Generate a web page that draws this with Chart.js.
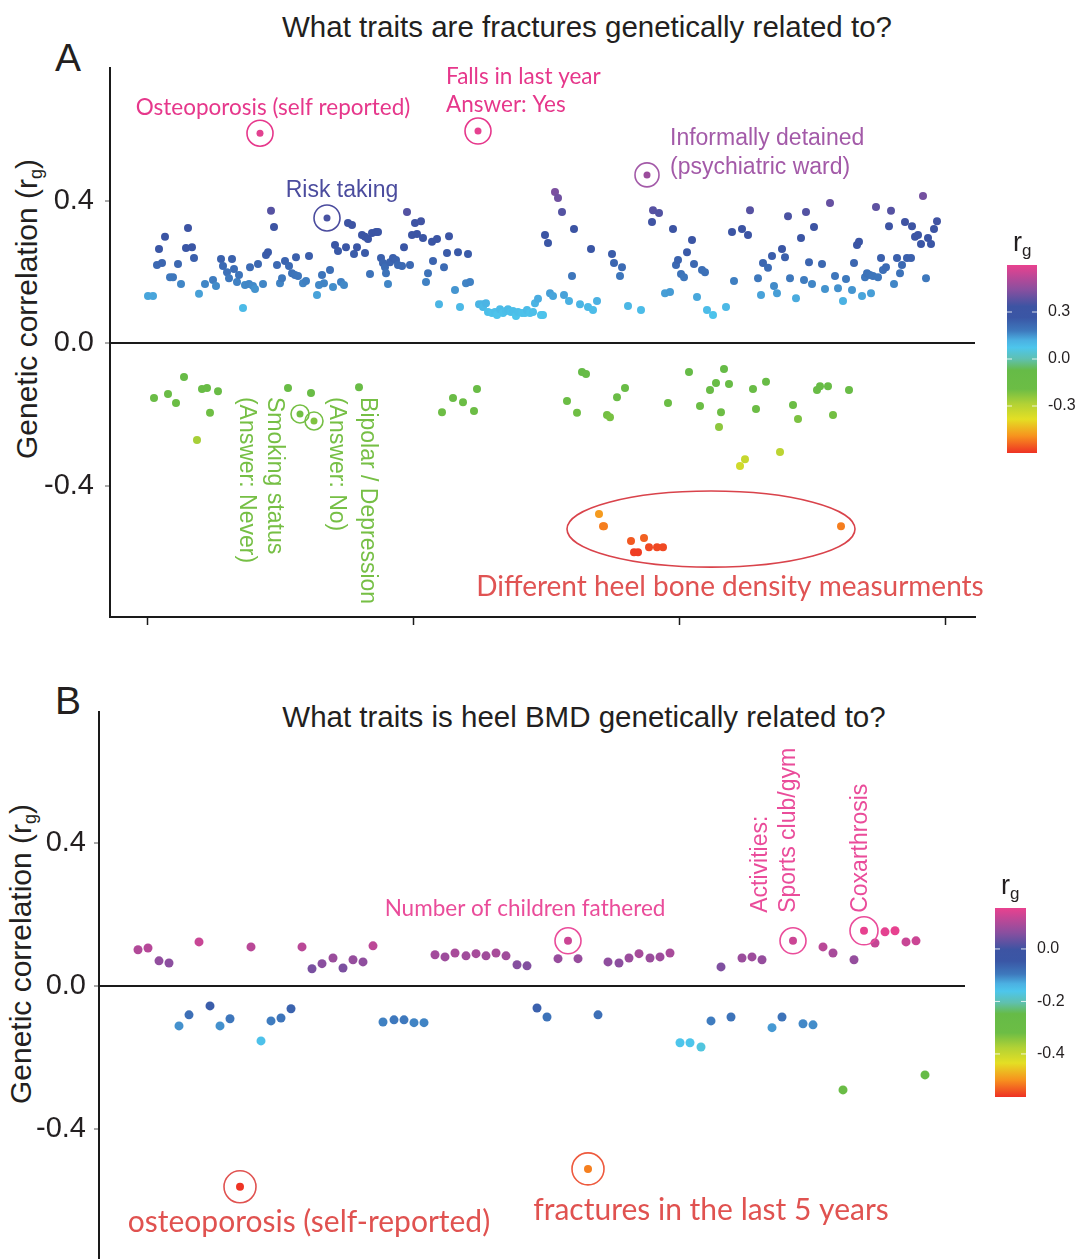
<!DOCTYPE html>
<html>
<head>
<meta charset="utf-8">
<script src="https://cdn.jsdelivr.net/npm/chart.js@4.4.1/dist/chart.umd.min.js"></script>
<style>
  body { margin: 0; background: #fff; width: 1080px; height: 1259px; position: relative; overflow: hidden; font-family: "Liberation Sans", Arial, sans-serif; color: #231f20; }
  .panel { position: absolute; left: 0; width: 1080px; }
  .lbl { position: absolute; white-space: nowrap; transform: translate(-50%, -50%); line-height: 1; }
  .ytitle { position: absolute; white-space: nowrap; transform: translate(-50%, -50%) rotate(-90deg); line-height: 1; }
  .ytitle sub { font-size: 0.6em; vertical-align: -0.3em; line-height: 0; }
</style>
</head>
<body>
<div class="lbl" style="left:587px;top:27px;font-size:29.5px">What traits are fractures genetically related to?</div>
<div class="lbl" style="left:68px;top:57px;font-size:39px">A</div>
<div class="ytitle" style="left:27px;top:309px;font-size:30px">Genetic correlation (r<sub>g</sub>)</div>
<div class="panel" style="top:0;height:640px"><canvas id="chartA"></canvas></div>

<div class="lbl" style="left:584px;top:717px;font-size:29.5px">What traits is heel BMD genetically related to?</div>
<div class="lbl" style="left:68px;top:700px;font-size:39px">B</div>
<div class="ytitle" style="left:21px;top:954px;font-size:30px">Genetic correlation (r<sub>g</sub>)</div>
<div class="panel" style="top:650px;height:609px"><canvas id="chartB"></canvas></div>

<script>
// ---- panel A : traits vs fractures ----
var aPosX = [1,6,10,12,15,18,23,26,31,34,39,41,45,47,52,58,66,69,74,76,80,82,85,87,90,92,96,98,102,103,106,108,111,116,119,121,124,127,130,133,135,138,142,145,148,149,151,156,159,162,170,172,175,177,183,186,188,191,194,197,199,201,205,207,210,215,218,218,221,223,225,229,231,234,236,238,239,241,243,246,249,251,255,257,260,263,265,268,270,274,276,279,281,285,286,290,292,297,300,302,308,311,313,319,321,323,332,
  335,336,339,341,345,348,350,353,356,359,361,364,366,369,371,375,378,380,383,386,388,391,394,396,398,401,403,406,408,411,415,417,422,425,427,433,441,444,446,450,465,467,473,475,481,494,505,506,512,518,523,526,529,531,534,537,540,545,547,550,555,558,560,566,
  579,585,587,595,601,603,611,614,616,621,625,627,630,635,638,641,643,649,654,657,659,662,665,667,675,678,683,688,691,696,699,705,707,710,712,715,718,720,723,724,726,729,731,734,736,739,742,744,747,750,753,755,758,760,764,765,768,771,774,776,779,781,784,787,790];
var aPosY = [.132,.132,.219,.264,.225,.298,.185,.185,.222,.166,.267,.323,.269,.239,.138,.166,.177,.160,.236,.216,.199,.182,.236,.208,.171,.191,.098,.163,.166,.213,.160,.152,.222,.166,.247,.255,.371,.326,.219,.168,.182,.230,.216,.196,.191,.241,.188,.168,.174,.244,.135,.163,.191,.168,.205,.157,.275,.258,.171,.163,.269,.337,.331,.250,.269,.303,.298,.253,.292,.194,.309,.312,.312,.239,.225,.213,.196,.166,.227,.239,.233,.219,.216,.269,.368,.219,.303,.337,.306,.342,.295,.171,.196,.284,.230,.292,.109,.213,.253,.300,.149,.255,.101,.168,.250,.171,.109,
  .109,.101,.112,.087,.084,.087,.079,.095,.084,.090,.095,.087,.090,.076,.087,.084,.084,.093,.084,.087,.112,.124,.079,.079,.303,.281,.140,.132,.424,.407,.368,.135,.118,.188,.320,.109,.101,.264,.093,.118,.250,.225,.188,.213,.104,.093,.340,.373,.365,.140,.143,.320,.219,.233,.194,.185,.255,.289,.222,.129,.205,.199,.093,.079,
  .101,.312,.174,.320,.303,.373,.182,.135,.225,.211,.244,.160,.140,.264,.241,.356,.182,.126,.295,.177,.368,.227,.166,.326,.222,.152,.393,.188,.154,.118,.180,.149,.225,.275,.284,.132,.185,.196,.191,.140,.188,.382,.185,.239,.205,.213,.328,.371,.166,.239,.196,.219,.340,.239,.239,.328,.298,.303,.278,.413,.182,.295,.278,.320,.342];
var aNegX = [7,21,29,37,50,55,60,63,71,141,164,212,295,306,316,327,330,420,430,435,439,452,456,457,460,463,470,478,484,487,491,497,502,510,516,521,542,553,563,569,572,574,577,582,593,598,606,609,619,633,646,651,670,673,681,686,694,702];
var aNegY = [-.154,-.143,-.168,-.095,-.272,-.129,-.126,-.196,-.135,-.126,-.140,-.124,-.194,-.154,-.166,-.191,-.129,-.163,-.196,-.081,-.087,-.480,-.514,-.514,-.202,-.208,-.152,-.126,-.556,-.587,-.587,-.547,-.573,-.573,-.573,-.168,-.081,-.177,-.132,-.112,-.236,-.194,-.073,-.115,-.345,-.326,-.129,-.185,-.109,-.306,-.174,-.213,-.132,-.121,-.121,-.202,-.514,-.132];
// highlighted traits
var aHiLabels = ['Osteoporosis (self reported)', 'Falls in last year\nAnswer: Yes', 'Risk taking', 'Informally detained\n(psychiatric ward)', 'Smoking status\n(Answer: Never)', 'Bipolar / Depression\n(Answer: No)'];
var aHiX = [113, 331, 180, 500, 153, 167];
var aHiY = [0.589, 0.595, 0.351, 0.472, -0.199, -0.219];
var aGroupLabel = 'Different heel bone density measurments';
var aYTicks = [-0.4, 0, 0.4];
var aXTicks = [0, 266, 532, 798];
var aColorRange = [-0.6, 0.6];
var aColorTicks = [0.3, 0, -0.3];

// ---- panel B : traits vs heel BMD ----
var bX = [38,48,59,69,79,89,99,110,120,130,151,161,171,181,191,202,212,222,233,243,253,263,273,283,294,304,314,324,335,345,355,366,376,386,396,406,417,427,437,447,458,478,498,508,519,529,539,550,560,570,580,590,601,611,621,631,642,652,662,672,682,703,713,723,733,743,754,775,785,795,806,816,825];
var bY = [.101,.106,.070,.064,-.112,-.081,.123,-.056,-.112,-.092,.109,-.154,-.098,-.090,-.064,.109,.048,.062,.078,.050,.073,.067,.112,-.101,-.095,-.095,-.103,-.103,.087,.081,.092,.084,.090,.084,.092,.084,.059,.056,-.062,-.087,.076,.076,-.081,.067,.064,.078,.090,.078,.081,.092,-.159,-.159,-.171,-.098,.053,-.087,.078,.081,.073,-.117,-.087,-.106,-.109,.109,.092,-.291,.073,.120,.151,.154,.123,.126,-.249];
var bHiLabels = ['Number of children fathered', 'Activities:\nSports club/gym', 'Coxarthrosis', 'osteoporosis (self-reported)', 'fractures in the last 5 years'];
var bHiX = [468, 693, 764, 140, 488];
var bHiY = [0.126, 0.126, 0.154, -0.562, -0.512];
var bYTicks = [-0.4, 0, 0.4];
var bColorRange = [-0.564, 0.156];
var bColorTicks = [0, -0.2, -0.4];

// colour ramp shared by both colour bars
var rampStops = [[0,'#ee3124'],[0.09,'#f7921e'],[0.18,'#e4df24'],[0.26,'#b3d235'],[0.34,'#6cbd45'],[0.44,'#66bb47'],[0.5,'#5fc0b0'],[0.56,'#4dc6ec'],[0.6,'#4bb0e2'],[0.65,'#3e79bd'],[0.72,'#3a56a5'],[0.78,'#3d54a3'],[0.87,'#8a4f9f'],[1,'#e9418f']];

function hexRgb(h) {
  return [parseInt(h.substr(1, 2), 16), parseInt(h.substr(3, 2), 16), parseInt(h.substr(5, 2), 16)];
}
function rampColor(t) {
  t = Math.max(0, Math.min(1, t));
  for (var i = 1; i < rampStops.length; i++) {
    if (t <= rampStops[i][0]) {
      var a = rampStops[i - 1], b = rampStops[i];
      var f = (t - a[0]) / (b[0] - a[0]);
      var ca = hexRgb(a[1]), cb = hexRgb(b[1]);
      return 'rgb(' + Math.round(ca[0] + (cb[0] - ca[0]) * f) + ',' + Math.round(ca[1] + (cb[1] - ca[1]) * f) + ',' + Math.round(ca[2] + (cb[2] - ca[2]) * f) + ')';
    }
  }
  return rampStops[rampStops.length - 1][1];
}
function colorFor(v, range) { return rampColor((v - range[0]) / (range[1] - range[0])); }

function points(xs, ys) { return xs.map(function(x, i) { return { x: x, y: ys[i] }; }); }
function dataset(xs, ys, range, radius) {
  return {
    data: points(xs, ys),
    backgroundColor: ys.map(function(v) { return colorFor(v, range); }),
    borderWidth: 0,
    pointRadius: radius,
    pointHoverRadius: radius
  };
}

// annotations, colour bar, circles round highlighted traits
var decor = {
  id: 'decor',
  afterDatasetsDraw: function(chart, args, o) {
    var ctx = chart.ctx, xs = chart.scales.x, ys = chart.scales.y;
    ctx.save();
    o.notes.forEach(function(n) {
      var px = xs.getPixelForValue(o.hiX[n.i]), py = ys.getPixelForValue(o.hiY[n.i]);
      ctx.strokeStyle = n.ring || n.color;
      ctx.lineWidth = 1.6;
      ctx.beginPath(); ctx.arc(px, py, n.r, 0, Math.PI * 2); ctx.stroke();
      var lines = o.labels[n.i].split('\n');
      ctx.fillStyle = n.color;
      ctx.font = n.font;
      ctx.textAlign = n.align || 'left';
      ctx.textBaseline = 'middle';
      lines.forEach(function(t, k) {
        ctx.save();
        ctx.translate(px + n.pos[k][0], py + n.pos[k][1]);
        ctx.rotate(n.rot || 0);
        ctx.fillText(t, 0, 0);
        ctx.restore();
      });
    });

    if (o.group) {
      var g = o.group, minX = 1e9, maxX = -1e9, minY = 1e9, maxY = -1e9;
      g.xs.forEach(function(x, i) {
        if (g.ys[i] > g.below) return;
        var px = xs.getPixelForValue(x), py = ys.getPixelForValue(g.ys[i]);
        minX = Math.min(minX, px); maxX = Math.max(maxX, px);
        minY = Math.min(minY, py); maxY = Math.max(maxY, py);
      });
      var cx = (minX + maxX) / 2 + g.dx, cy = (minY + maxY) / 2 + g.dy;
      ctx.strokeStyle = g.ring; ctx.lineWidth = 1.6;
      ctx.beginPath();
      ctx.ellipse(cx, cy, (maxX - minX) / 2 + g.padX, (maxY - minY) / 2 + g.padY, 0, 0, Math.PI * 2);
      ctx.stroke();
      ctx.fillStyle = g.color; ctx.font = g.font; ctx.textAlign = 'center'; ctx.textBaseline = 'middle';
      ctx.fillText(g.label, cx + g.tx, cy + g.ty);
    }

    // colour bar
    var b = o.bar;
    var grad = ctx.createLinearGradient(0, b.y + b.h, 0, b.y);
    rampStops.forEach(function(s) { grad.addColorStop(s[0], s[1]); });
    ctx.fillStyle = grad;
    ctx.fillRect(b.x, b.y, b.w, b.h);
    ctx.fillStyle = '#231f20';
    ctx.font = '16px "Liberation Sans", Arial, sans-serif';
    ctx.textAlign = 'left'; ctx.textBaseline = 'middle';
    b.ticks.forEach(function(v) {
      var ty = b.y + b.h * (b.range[1] - v) / (b.range[1] - b.range[0]);
      ctx.strokeStyle = 'rgba(255,255,255,0.8)'; ctx.lineWidth = 1;
      ctx.beginPath();
      ctx.moveTo(b.x, ty); ctx.lineTo(b.x + 5, ty);
      ctx.moveTo(b.x + b.w - 5, ty); ctx.lineTo(b.x + b.w, ty);
      ctx.stroke();
      ctx.fillText(v.toFixed(1), b.x + b.w + 11, ty);
    });
    ctx.textBaseline = 'alphabetic';
    ctx.font = '27px "Liberation Sans", Arial, sans-serif';
    ctx.fillText('r', b.x + 6, b.y - 14);
    ctx.font = '17px "Liberation Sans", Arial, sans-serif';
    ctx.fillText('g', b.x + 15, b.y - 9);
    ctx.restore();
  }
};

function yScale(ticks, min, max, width, tickLen, pad) {
  return {
    min: min, max: max,
    afterBuildTicks: function(s) { s.ticks = ticks.map(function(v) { return { value: v }; }); },
    // fixed axis width, and no extra room kept for the end labels
    afterFit: function(s) { s.width = width; s.paddingTop = 0; s.paddingBottom = 0; },
    ticks: { color: '#231f20', padding: pad, font: { size: 29, family: '"Liberation Sans", Arial, sans-serif' }, callback: function(v) { return v.toFixed(1); } },
    grid: {
      color: function(c) { return c.tick && c.tick.value === 0 ? '#1a1a1a' : 'rgba(0,0,0,0)'; },
      lineWidth: 2, tickColor: '#555', tickLength: tickLen, tickWidth: 1
    },
    border: { color: '#1a1a1a', width: 2 }
  };
}

var sans = '"Liberation Sans", Arial, sans-serif';
var notesA = [
  { i: 0, r: 13, color: '#e6378b', font: '22.5px Lato', align: 'center', pos: [[13, -25]] },
  { i: 1, r: 13, color: '#e6378b', font: '22.5px Lato', pos: [[-32, -54], [-32, -26]] },
  { i: 2, r: 13, color: '#4b4c9e', font: '23px ' + sans, align: 'center', pos: [[15, -27]] },
  { i: 3, r: 12, color: '#a35aa8', font: '23px ' + sans, pos: [[23, -36], [23, -7]] },
  { i: 4, r: 9, color: '#76bf45', font: '23px ' + sans, rot: Math.PI / 2, pos: [[-26, -17], [-54, -17]] },
  { i: 5, r: 9, color: '#76bf45', font: '23px ' + sans, rot: Math.PI / 2, pos: [[53, -24], [22, -24]] }
];
var notesB = [
  { i: 0, r: 13, color: '#ea4c9a', font: '22.5px Lato', align: 'center', pos: [[-43, -32]] },
  { i: 1, r: 13, color: '#ea4c9a', font: '23px ' + sans, rot: -Math.PI / 2, pos: [[-32, -28], [-4, -28]] },
  { i: 2, r: 14, color: '#ea4c9a', font: '23px ' + sans, rot: -Math.PI / 2, pos: [[-3, -18]] },
  { i: 3, r: 16, color: '#e05250', font: '30px Lato', align: 'center', pos: [[69, 36]] },
  { i: 4, r: 16, color: '#e05250', ring: '#ee5a3e', font: '30px Lato', align: 'center', pos: [[123, 41]] }
];

new Chart(document.getElementById('chartA'), {
  type: 'scatter',
  data: {
    datasets: [
      dataset(aPosX, aPosY, aColorRange, 4),
      dataset(aNegX, aNegY, aColorRange, 4),
      dataset(aHiX, aHiY, aColorRange, 3.5)
    ]
  },
  options: {
    responsive: true, maintainAspectRatio: false, animation: false,
    layout: { autoPadding: false, padding: { left: 0, right: 105, top: 68, bottom: 0 } },
    plugins: {
      legend: { display: false }, tooltip: { enabled: false },
      decor: {
        notes: notesA, labels: aHiLabels, hiX: aHiX, hiY: aHiY,
        group: { xs: aNegX, ys: aNegY, below: -0.45, dx: -9, dy: -4, padX: 23, padY: 19, ring: '#d9434b', color: '#e05353', font: '28px Lato', label: aGroupLabel, tx: 19, ty: 58 },
        bar: { x: 1007, y: 265, w: 30, h: 188, range: aColorRange, ticks: aColorTicks }
      }
    },
    scales: {
      x: {
        type: 'linear', min: -37, max: 828,
        afterBuildTicks: function(s) { s.ticks = aXTicks.map(function(v) { return { value: v }; }); },
        afterFit: function(s) { s.height = 23; },
        ticks: { display: false },
        grid: { drawOnChartArea: false, tickLength: 8, tickColor: '#1a1a1a', tickWidth: 1.5 },
        border: { color: '#1a1a1a', width: 2 }
      },
      y: yScale(aYTicks, -0.769, 0.772, 110, 5, 11)
    }
  },
  plugins: [decor]
});

new Chart(document.getElementById('chartB'), {
  type: 'scatter',
  data: {
    datasets: [
      dataset(bX, bY, bColorRange, 4.5),
      dataset(bHiX, bHiY, bColorRange, 4)
    ]
  },
  options: {
    responsive: true, maintainAspectRatio: false, animation: false,
    layout: { autoPadding: false, padding: { left: 0, right: 115, top: 62, bottom: 0 } },
    plugins: {
      legend: { display: false }, tooltip: { enabled: false },
      decor: {
        notes: notesB, labels: bHiLabels, hiX: bHiX, hiY: bHiY,
        bar: { x: 995, y: 258, w: 31, h: 189, range: bColorRange, ticks: bColorTicks }
      }
    },
    scales: {
      x: { type: 'linear', min: -1, max: 865, display: false },
      y: yScale(bYTicks, -0.764, 0.766, 99, 5, 8)
    }
  },
  plugins: [decor]
});
</script>
</body>
</html>
